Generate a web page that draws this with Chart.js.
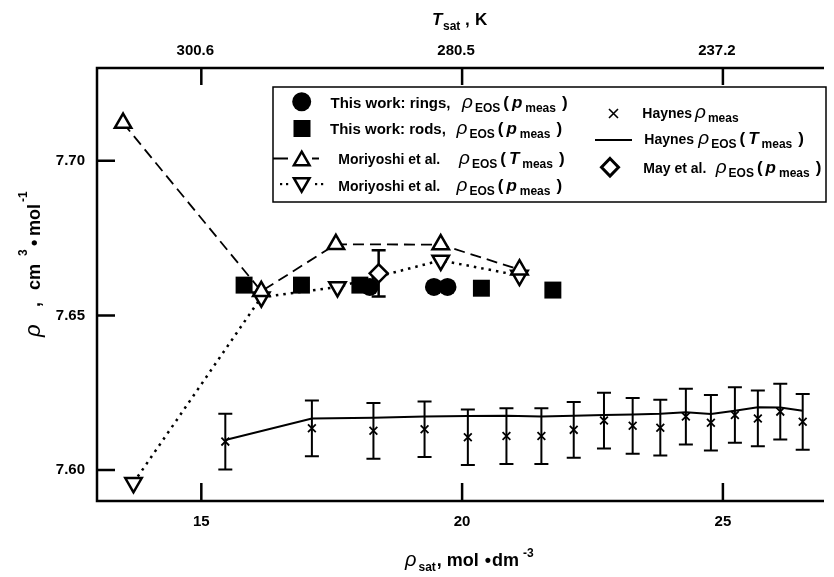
<!DOCTYPE html>
<html><head><meta charset="utf-8">
<script src="https://cdn.jsdelivr.net/npm/chart.js@4.4.1/dist/chart.umd.min.js"></script>
<style>html,body{margin:0;padding:0;background:#fff;}#wrap{position:relative;width:834px;height:577px;}</style>
</head><body><div id="wrap"><canvas id="c" width="834" height="577"></canvas></div>
<script>
// ---- data ----
const xTicks = [15, 20, 25];
const topTickLabels = ['300.6', '280.5', '237.2'];
const yTicks = [7.60, 7.65, 7.70];

const ringsX = [18.23, 19.46, 19.72];
const ringsY = [7.6592, 7.6592, 7.6592];
const rodsX = [15.82, 16.92, 18.04, 20.37, 21.74];
const rodsY = [7.6598, 7.6598, 7.6598, 7.6588, 7.6582];
const moriTX = [13.50, 16.15, 17.58, 19.59, 21.10];
const moriTY = [7.7122, 7.6578, 7.6730, 7.6729, 7.6648];
const moriPX = [13.70, 16.15, 17.61, 19.59, 21.10];
const moriPY = [7.5959, 7.6559, 7.6592, 7.6678, 7.6629];
const haynesX = [15.46, 17.12, 18.30, 19.28, 20.11, 20.85, 21.52, 22.14, 22.72, 23.27, 23.80, 24.29, 24.77, 25.23, 25.67, 26.10, 26.53];
const haynesMeas = [7.6092, 7.6135, 7.6127, 7.6132, 7.6106, 7.6110, 7.6110, 7.6130, 7.6160, 7.6143, 7.6137, 7.6173, 7.6153, 7.6178, 7.6167, 7.6189, 7.6156];
const haynesErr = [0.009, 0.009, 0.009, 0.009, 0.009, 0.009, 0.009, 0.009, 0.009, 0.009, 0.009, 0.009, 0.009, 0.009, 0.009, 0.009, 0.009];
const haynesEOS = [7.6097, 7.6167, 7.6169, 7.6173, 7.6175, 7.6176, 7.6173, 7.6176, 7.6178, 7.6180, 7.6182, 7.6187, 7.6181, 7.6192, 7.6203, 7.6202, 7.6192];
const mayX = [18.40];
const mayY = [7.6636];
const mayErr = [0.0075];

const pts = (xs, ys) => xs.map((x, i) => ({x: x, y: ys[i]}));
const F = (style, size) => style + ' ' + size + 'px "Liberation Sans", Arial, sans-serif';

function rich(ctx, x, y, segs) {
  ctx.textBaseline = 'alphabetic';
  ctx.textAlign = 'left';
  for (const s of segs) {
    if (s.x !== undefined) x = s.x;
    if (s.gap) x += s.gap;
    ctx.font = s.f;
    ctx.fillText(s.t, x, y + (s.dy || 0));
    x += ctx.measureText(s.t).width;
  }
  return x;
}
function tri(ctx, cx, cy, r, down) {
  const s = down ? -1 : 1;
  ctx.beginPath();
  ctx.moveTo(cx, cy - s * r);
  ctx.lineTo(cx + 0.866 * r, cy + s * r / 2);
  ctx.lineTo(cx - 0.866 * r, cy + s * r / 2);
  ctx.closePath();
  ctx.fillStyle = '#fff'; ctx.fill();
  ctx.strokeStyle = '#000'; ctx.stroke();
}

const RHO = F('italic', 19);
const SUB = F('bold', 12);
const B15 = F('bold', 15);
const B14 = F('bold', 14);
const PAR = F('bold', 17);
const ITB = F('italic bold', 17);

function eosSegs(v) {
  return [
    {t: 'ρ', f: RHO},
    {t: 'EOS', f: SUB, dy: 4, gap: 2},
    {t: '(', f: PAR, gap: 3},
    {t: v, f: ITB, gap: 3},
    {t: 'meas', f: SUB, dy: 4, gap: 3},
    {t: ')', f: PAR, gap: 6}
  ];
}

const decor = {
  id: 'decor',
  beforeDatasetsDraw(chart) {
    const ctx = chart.ctx, xs = chart.scales.x, ys = chart.scales.y;
    ctx.save();
    ctx.strokeStyle = '#000';
    ctx.lineWidth = 2;
    const bar = (xv, yv, e, cap) => {
      const px = xs.getPixelForValue(xv);
      const y1 = ys.getPixelForValue(yv + e), y2 = ys.getPixelForValue(yv - e);
      ctx.beginPath();
      ctx.moveTo(px, y1); ctx.lineTo(px, y2);
      ctx.moveTo(px - cap, y1); ctx.lineTo(px + cap, y1);
      ctx.moveTo(px - cap, y2); ctx.lineTo(px + cap, y2);
      ctx.stroke();
    };
    haynesX.forEach((x, i) => bar(x, haynesMeas[i], haynesErr[i], 7));
    ctx.lineWidth = 2.5;
    mayX.forEach((x, i) => bar(x, mayY[i], mayErr[i], 7));
    ctx.restore();
  },
  afterDraw(chart) {
    const ctx = chart.ctx, a = chart.chartArea, xs = chart.scales.x, ys = chart.scales.y;
    ctx.save();
    ctx.strokeStyle = '#000';
    ctx.fillStyle = '#000';
    // frame
    ctx.lineWidth = 2.5;
    ctx.beginPath();
    ctx.moveTo(a.right + 2, a.top); ctx.lineTo(a.left, a.top); ctx.lineTo(a.left, a.bottom); ctx.lineTo(a.right + 2, a.bottom);
    ctx.stroke();
    // inner ticks
    ctx.beginPath();
    xTicks.forEach(v => {
      const p = xs.getPixelForValue(v);
      ctx.moveTo(p, a.bottom); ctx.lineTo(p, a.bottom - 18);
      ctx.moveTo(p, a.top); ctx.lineTo(p, a.top + 17);
    });
    yTicks.forEach(v => {
      const p = ys.getPixelForValue(v);
      ctx.moveTo(a.left, p); ctx.lineTo(a.left + 18, p);
    });
    ctx.stroke();

    // legend box
    ctx.fillStyle = '#fff';
    ctx.fillRect(273, 87, 553, 115);
    ctx.lineWidth = 1.5;
    ctx.strokeRect(273, 87, 553, 115);
    ctx.fillStyle = '#000';
    // symbols, left column
    ctx.beginPath(); ctx.arc(301.7, 101.7, 9.5, 0, Math.PI * 2); ctx.fill();
    ctx.fillRect(293.5, 120, 17, 17);
    ctx.lineWidth = 1.8;
    ctx.beginPath(); ctx.moveTo(273, 158.5); ctx.lineTo(288, 158.5); ctx.moveTo(312, 158.5); ctx.lineTo(319, 158.5); ctx.stroke();
    ctx.lineWidth = 2.5;
    tri(ctx, 301.7, 160.7, 9);
    ctx.fillStyle = '#000';
    [281, 287, 316, 322].forEach(x => ctx.fillRect(x - 1, 183, 2.2, 2.2));
    ctx.lineWidth = 2.5;
    tri(ctx, 301.7, 182.7, 9, true);
    ctx.fillStyle = '#000';
    // right column symbols
    ctx.lineWidth = 1.6;
    ctx.beginPath();
    ctx.moveTo(609, 109); ctx.lineTo(618, 118); ctx.moveTo(618, 109); ctx.lineTo(609, 118);
    ctx.stroke();
    ctx.lineWidth = 2;
    ctx.beginPath(); ctx.moveTo(595, 140); ctx.lineTo(632, 140); ctx.stroke();
    ctx.lineWidth = 3;
    ctx.beginPath();
    ctx.moveTo(610, 158.5); ctx.lineTo(618.5, 167.3); ctx.lineTo(610, 176); ctx.lineTo(601.5, 167.3); ctx.closePath();
    ctx.fillStyle = '#fff'; ctx.fill(); ctx.stroke();
    ctx.fillStyle = '#000';

    // legend text
    rich(ctx, 330.5, 107.5, [{t: 'This work: rings,', f: B15}]);
    rich(ctx, 462, 107.5, eosSegs('p'));
    rich(ctx, 330, 133.5, [{t: 'This work: rods,', f: B15}]);
    rich(ctx, 456.5, 133.5, eosSegs('p'));
    rich(ctx, 338.3, 164, [{t: 'Moriyoshi et al.', f: B14}]);
    rich(ctx, 459, 164, eosSegs('T'));
    rich(ctx, 338.3, 190.7, [{t: 'Moriyoshi et al.', f: B14}]);
    rich(ctx, 456.5, 190.7, eosSegs('p'));
    rich(ctx, 642.3, 118, [{t: 'Haynes', f: B14}]);
    rich(ctx, 695, 118, [{t: 'ρ', f: RHO}, {t: 'meas', f: SUB, dy: 4, gap: 2}]);
    rich(ctx, 644.3, 143.5, [{t: 'Haynes', f: B14}]);
    rich(ctx, 698.3, 143.5, eosSegs('T'));
    rich(ctx, 643.3, 172.7, [{t: 'May et al.', f: B14}]);
    rich(ctx, 715.7, 172.7, eosSegs('p'));

    // axis titles
    rich(ctx, 432, 25, [
      {t: 'T', f: F('italic bold', 17)},
      {t: 'sat', f: F('bold', 12), dy: 5, x: 443},
      {t: ',', f: F('bold', 17), x: 465},
      {t: 'K', f: F('bold', 17), x: 475}
    ]);
    rich(ctx, 405, 565.5, [
      {t: 'ρ', f: F('italic', 20)},
      {t: 'sat', f: F('bold', 12), dy: 5, gap: 2},
      {t: ', mol', f: F('bold', 18), gap: 1},
      {t: '•', f: F('bold', 18), gap: 6},
      {t: 'dm', f: F('bold', 18), gap: 1},
      {t: '-3', f: F('bold', 12), dy: -9, gap: 4}
    ]);
    ctx.translate(40, 337);
    ctx.rotate(-Math.PI / 2);
    rich(ctx, 0, 0, [
      {t: 'ρ', f: F('italic', 22), x: 0},
      {t: ',', f: F('bold', 18), x: 30},
      {t: 'cm', f: F('bold', 18), x: 47},
      {t: '3', f: F('bold', 12), dy: -13, x: 81},
      {t: '•', f: F('bold', 18), x: 91},
      {t: 'mol', f: F('bold', 18), x: 101},
      {t: '-1', f: F('bold', 12), dy: -13, x: 135}
    ]);
    ctx.restore();
  }
};

const tickFont = {family: '"Liberation Sans"', size: 15, weight: 'bold'};

new Chart(document.getElementById('c'), {
  type: 'scatter',
  data: {
    datasets: [
      {label: 'May et al.', data: pts(mayX, mayY), pointStyle: 'rectRot', pointRadius: 9,
        pointBackgroundColor: '#fff', pointBorderColor: '#000', pointBorderWidth: 2.5, showLine: false, order: 0},
      {label: 'Moriyoshi T', data: pts(moriTX, moriTY), pointStyle: 'triangle', pointRadius: 9.5,
        pointBackgroundColor: '#fff', pointBorderColor: '#000', pointBorderWidth: 2.5,
        showLine: true, borderColor: '#000', borderWidth: 1.8, borderDash: [11, 6], order: 1},
      {label: 'Moriyoshi p', data: pts(moriPX, moriPY), pointStyle: 'triangle', pointRotation: 180, pointRadius: 9.5,
        pointBackgroundColor: '#fff', pointBorderColor: '#000', pointBorderWidth: 2.5,
        showLine: true, borderColor: '#000', borderWidth: 2.5, borderDash: [2.5, 5], order: 2},
      {label: 'rings', data: pts(ringsX, ringsY), pointStyle: 'circle', pointRadius: 9,
        pointBackgroundColor: '#000', pointBorderColor: '#000', pointBorderWidth: 0, showLine: false, order: 3},
      {label: 'rods', data: pts(rodsX, rodsY), pointStyle: 'rect', pointRadius: 12,
        pointBackgroundColor: '#000', pointBorderColor: '#000', pointBorderWidth: 0, showLine: false, order: 4},
      {label: 'Haynes meas', data: pts(haynesX, haynesMeas), pointStyle: 'crossRot', pointRadius: 5.5,
        pointBorderColor: '#000', pointBorderWidth: 1.8, showLine: false, order: 5},
      {label: 'Haynes EOS', data: pts(haynesX, haynesEOS), pointRadius: 0, showLine: true,
        borderColor: '#000', borderWidth: 2, order: 6}
    ]
  },
  options: {
    responsive: false, animation: false, events: [],
    layout: {padding: 0},
    plugins: {legend: {display: false}, tooltip: {enabled: false}},
    scales: {
      x: {type: 'linear', position: 'bottom', min: 13, max: 26.9,
        afterBuildTicks: s => { s.ticks = xTicks.map(v => ({value: v})); },
        afterFit: s => { s.height = 76; },
        ticks: {font: tickFont, color: '#000', padding: 12, maxRotation: 0, callback: v => String(v)},
        grid: {display: false, drawTicks: false}, border: {display: false}},
      x2: {type: 'linear', axis: 'x', position: 'top', min: 13, max: 26.9,
        afterBuildTicks: s => { s.ticks = xTicks.map(v => ({value: v})); },
        afterFit: s => { s.height = 68; },
        ticks: {font: tickFont, color: '#000', padding: 8, maxRotation: 0, labelOffset: -6,
          callback: v => topTickLabels[xTicks.indexOf(v)]},
        grid: {display: false, drawTicks: false}, border: {display: false}},
      y: {type: 'linear', position: 'left', min: 7.59, max: 7.73,
        afterBuildTicks: s => { s.ticks = yTicks.map(v => ({value: v})); },
        afterFit: s => { s.width = 97; },
        ticks: {font: tickFont, color: '#000', padding: 12, callback: v => v.toFixed(2)},
        grid: {display: false, drawTicks: false}, border: {display: false}}
    }
  },
  plugins: [decor]
});
</script>
</body></html>
